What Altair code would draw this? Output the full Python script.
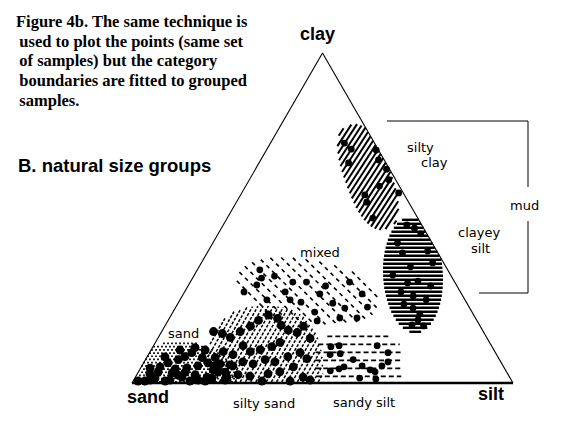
import altair as alt
import numpy as np
import pandas as pd

# ---------------- sample compositions: % clay and % silt (sand = remainder) ----------------
sand_clay = [0.6, 0.6, 1.5, 4.9, 0.6, 6.1, 3.1, 4.3, 7.1, 1.8, 8.0, 4.6, 9.2, 10.7, 2.5, 0.6, 7.7, 0.6, 1.8, 6.1, 3.4, 0.9, 2.8, 5.2,
             0.9, 3.3, 0.9, 2.4, 3.3, 0.9, 1.5, 10.0, 10.0, 7.9, 4.5, 5.2, 3.3, 5.5]
sand_silt = [1.3, 3.1, 5.3, 4.9, 8.4, 6.4, 9.0, 9.2, 8.6, 12.2, 9.9, 12.1, 11.1, 11.2, 15.3, 14.9, 14.6, 18.9, 18.8, 16.9, 20.9, 24.0, 3.3, 14.7,
             4.3, 5.2, 9.5, 10.9, 12.3, 16.9, 20.2, 7.6, 14.2, 4.7, 2.5, 19.2, 22.8, 23.0]

silty_sand_clay = [15.6, 15.0, 13.8, 15.6, 17.2, 19.0, 20.6, 19.6, 17.5, 16.0, 15.3, 17.2, 13.5, 12.3, 11.0, 10.1, 9.5, 11.3, 8.6, 9.5,
                   7.7, 5.8, 5.2, 6.4, 5.8, 7.1, 6.4, 8.0, 9.2, 7.4, 4.9, 3.4, 2.8, 2.1, 2.5, 1.8, 4.0, 0.6, 1.8, 0.6, 0.9]
silty_sand_silt = [13.6, 16.2, 18.9, 20.6, 22.5, 23.7, 25.5, 28.4, 30.4, 33.0, 35.7, 36.4, 40.0, 32.7, 31.2, 28.6, 26.3, 23.5, 22.2, 19.2,
                   18.0, 20.2, 23.9, 25.9, 28.9, 31.4, 34.3, 36.9, 39.5, 42.2, 39.9, 37.1, 34.3, 29.9, 26.6, 24.0, 19.3, 41.2, 44.0, 33.8, 46.3]

sandy_silt_clay = [11.0, 11.3, 11.3, 8.6, 8.9, 9.2, 7.1, 3.7, 4.3, 4.9, 5.2, 4.0, 3.4, 5.2, 6.4, 1.5, 1.2]
sandy_silt_silt = [46.7, 48.7, 58.7, 47.7, 50.2, 62.6, 54.5, 50.2, 52.2, 53.2, 57.8, 60.5, 62.1, 63.0, 64.0, 59.0, 63.4]

mixed_clay = [34.3, 31.8, 32.4, 27.6, 29.7, 30.6, 30.6, 29.4, 27.6, 27.0, 30.6, 27.0, 25.2, 25.2, 24.5, 24.2, 22.7, 23.0, 21.5, 19.7, 19.7, 18.8]
mixed_silt = [16.4, 18.1, 21.2, 15.6, 17.9, 26.9, 30.5, 36.1, 26.4, 35.8, 41.8, 46.9, 22.8, 28.9, 32.1, 40.6, 44.5, 50.3, 37.2, 44.7, 49.2, 39.2]

silty_clay_clay = [72.7, 70.9, 70.6, 66.7, 67.6, 64.8, 61.6, 59.7, 57.0, 54.8, 57.6, 50.0]
silty_clay_silt = [19.4, 22.1, 28.8, 23.5, 30.9, 34.4, 36.6, 35.1, 32.6, 34.2, 41.2, 38.2]

clayey_silt_clay = [47.9, 46.9, 45.2, 42.4, 39.4, 40.0, 36.4, 35.2, 32.7, 30.9, 30.3, 29.4, 27.6, 26.4, 23.9, 22.7, 20.9, 19.1, 17.3, 17.6, 25.2]
clayey_silt_silt = [48.2, 50.7, 53.2, 48.5, 51.3, 57.6, 60.7, 55.5, 52.1, 59.6, 57.2, 63.7, 56.8, 60.6, 59.4, 62.4, 65.1, 65.5, 67.9, 64.7, 64.6]

group_names = ["sand", "silty sand", "sandy silt", "mixed", "silty clay", "clayey silt"]
group_clay = [sand_clay, silty_sand_clay, sandy_silt_clay, mixed_clay, silty_clay_clay, clayey_silt_clay]
group_silt = [sand_silt, silty_sand_silt, sandy_silt_silt, mixed_silt, silty_clay_silt, clayey_silt_silt]

rows = []
for g, cl, si in zip(group_names, group_clay, group_silt):
    for c, s in zip(cl, si):
        rows.append({"group": g, "clay": c, "silt": s, "sand": round(100 - c - s, 1)})
samples = pd.DataFrame(rows)

# triangle vertices as compositions
vert_names = ["sand", "silt", "clay"]
vert_clay = [0, 0, 100]
vert_silt = [0, 100, 0]

# ---------------- layout ----------------
PX = 3.81            # px per diagram unit
X0, Y0 = 132, 383    # page position of the sand vertex
W, H = 549, 409
xs = alt.Scale(domain=[(8 - X0) / PX, (8 + W - X0) / PX], nice=False, zero=False)
ys = alt.Scale(domain=[(Y0 - 8 - H) / PX, (Y0 - 8) / PX], nice=False, zero=False)
XE = alt.X("x:Q", scale=xs, axis=None)
YE = alt.Y("y:Q", scale=ys, axis=None)


def u(px, py):
    return (px - X0) / PX, (Y0 - py) / PX


SQ3 = np.sqrt(3)


# ---------------- fitted group boundaries (shapes in diagram units) ----------------
def region(px, py, rx_px, ry_px, ang, p):
    cx, cy = u(px, py)
    return (cx, cy, rx_px / PX, ry_px / PX, ang, p)


def inside(X, Y, reg):
    cx, cy, rx, ry, ang, p = reg
    t = np.radians(ang)
    dx, dy = X - cx, Y - cy
    a = dx * np.cos(t) + dy * np.sin(t)
    b = -dx * np.sin(t) + dy * np.cos(t)
    m = (np.abs(a / rx) ** p + np.abs(b / ry) ** p) <= 1
    tri = (Y >= 0.25) & (Y <= SQ3 * X) & (Y <= SQ3 * (100 - X))
    return m & tri


def hatch(reg, angle, spacing_px):
    cx, cy, rx, ry = reg[:4]
    R = max(rx, ry) * 1.6
    t = np.radians(angle)
    d = np.array([np.cos(t), np.sin(t)])
    n = np.array([-np.sin(t), np.cos(t)])
    s = np.arange(-R, R, 0.04)
    segs = []
    for c in np.arange(-R, R, spacing_px / PX):
        X = cx + n[0] * c + d[0] * s
        Y = cy + n[1] * c + d[1] * s
        m = inside(X, Y, reg).astype(int)
        idx = np.flatnonzero(np.diff(np.concatenate([[0], m, [0]])))
        for a, b in zip(idx[::2], idx[1::2]):
            if b - 1 > a:
                segs.append((X[a], Y[a], X[b - 1], Y[b - 1]))
    return pd.DataFrame(segs, columns=["x", "y", "x2", "y2"])


reg_silty_clay = region(368, 177, 55, 23, -70, 2.5)
reg_clayey_silt = region(413, 275, 58, 30, 93, 2.0)
reg_mixed = region(308, 291, 72, 31, -10, 2.2)
reg_silty_sand = region(265, 376, 58, 70, 0, 2.6)
reg_sandy_silt = region(359, 362, 44, 30, 0, 3.0)
reg_sand = region(180, 383, 58, 42, 0, 2.0)


def rules(df, width, dash=None):
    kw = dict(color="black", strokeWidth=width)
    if dash:
        kw["strokeDash"] = dash
    return alt.Chart(df).mark_rule(**kw).encode(x=XE, y=YE, x2="x2:Q", y2="y2:Q")


layers = []
layers.append(rules(hatch(reg_silty_clay, 57, 4.5), 2.0))
layers.append(rules(hatch(reg_clayey_silt, 0, 4.0), 2.4))
layers.append(rules(hatch(reg_mixed, -45, 8.0), 1.6, [4, 4]))
layers.append(rules(hatch(reg_silty_sand, 60, 4.5), 1.5, [3, 1.5]))
layers.append(rules(hatch(reg_sandy_silt, 0, 8.0), 1.6, [5, 3]))

# stipple for sand
gx, gy = [], []
for j, yy in enumerate(np.arange(0.3, 20, 3.2 / PX)):
    off = (j % 2) * 2.0 / PX
    for xx in np.arange(off, 40, 4.0 / PX):
        gx.append(xx)
        gy.append(yy)
gx, gy = np.array(gx), np.array(gy)
mk = inside(gx, gy, reg_sand)
stip = pd.DataFrame({"x": gx[mk], "y": gy[mk]})
layers.append(alt.Chart(stip).mark_square(size=3, color="black", opacity=1).encode(x=XE, y=YE))

# ---------------- triangle ----------------
edges = pd.DataFrame({
    "c1": [vert_clay[0], vert_clay[1], vert_clay[2]],
    "s1": [vert_silt[0], vert_silt[1], vert_silt[2]],
    "c2": [vert_clay[1], vert_clay[2], vert_clay[0]],
    "s2": [vert_silt[1], vert_silt[2], vert_silt[0]],
    "w": [2.5, 1.1, 1.1],
})
tri_base = alt.Chart(edges).transform_calculate(
    x="datum.s1 + datum.c1/2", y="datum.c1*sqrt(3)/2",
    x2="datum.s2 + datum.c2/2", y2="datum.c2*sqrt(3)/2",
)
layers.append(tri_base.transform_filter("datum.w > 2").mark_rule(color="black", strokeWidth=2.5)
              .encode(x=XE, y=YE, x2="x2:Q", y2="y2:Q"))
layers.append(tri_base.transform_filter("datum.w < 2").mark_rule(color="black", strokeWidth=1.1)
              .encode(x=XE, y=YE, x2="x2:Q", y2="y2:Q"))

# ---------------- sample points ----------------
pts = alt.Chart(samples).transform_calculate(
    x="datum.silt + datum.clay/2", y="datum.clay*sqrt(3)/2"
)
layers.append(pts.transform_filter("datum.group == 'sand' || datum.group == 'silty sand'")
              .mark_circle(size=78, color="black", opacity=1).encode(x=XE, y=YE))
layers.append(pts.transform_filter("datum.group != 'sand' && datum.group != 'silty sand'")
              .mark_circle(size=46, color="black", opacity=1).encode(x=XE, y=YE))

# ---------------- "mud" bracket ----------------
br_pts = [((387, 121), (528, 121)), ((528, 121), (528, 187)), ((528, 221), (528, 293)), ((479, 293), (528, 293))]
bracket = pd.DataFrame([(*u(*a), *u(*b)) for a, b in br_pts], columns=["x", "y", "x2", "y2"])
layers.append(rules(bracket, 1.0))

# ---------------- text ----------------
def tdf(items):
    return pd.DataFrame([{"t": t, "x": u(px, py)[0], "y": u(px, py)[1]} for t, px, py in items])


def text_layer(items, **mk):
    return alt.Chart(tdf(items)).mark_text(align="left", baseline="alphabetic", color="black", **mk).encode(
        x=XE, y=YE, text="t:N")


title_lines = ["Figure 4b. The same technique is", "used to plot the points (same set",
               "of samples) but the category", "boundaries are fitted to grouped", "samples."]
title_items = [(line, 16 if i == 0 else 19.3, 26.7 + 19.8 * i) for i, line in enumerate(title_lines)]
layers.append(text_layer(title_items, font="Liberation Serif", fontWeight="bold", fontSize=16.5))
layers.append(text_layer([("B. natural size groups", 18, 171.7)], font="Liberation Sans", fontWeight="bold", fontSize=18.5))
layers.append(text_layer([("clay", 300, 40), ("sand", 127, 402.5), ("silt", 478, 400)],
                         font="Liberation Sans", fontWeight="bold", fontSize=18))
region_labels = [("sand", 168, 338), ("mixed", 300, 257), ("silty sand", 233, 407.5), ("sandy silt", 333, 407),
                 ("silty", 407, 152), ("clay", 421, 167), ("clayey", 458, 237), ("silt", 471, 253), ("mud", 510, 210)]
layers.append(text_layer(region_labels, font="DejaVu Sans", fontSize=13))

chart = alt.layer(*layers).properties(
    width=W, height=H, autosize=alt.AutoSizeParams(type="none"), padding=0, background="white"
).configure_view(strokeWidth=0)

chart.save("out.html", embed_options={"renderer": "svg", "actions": False})
